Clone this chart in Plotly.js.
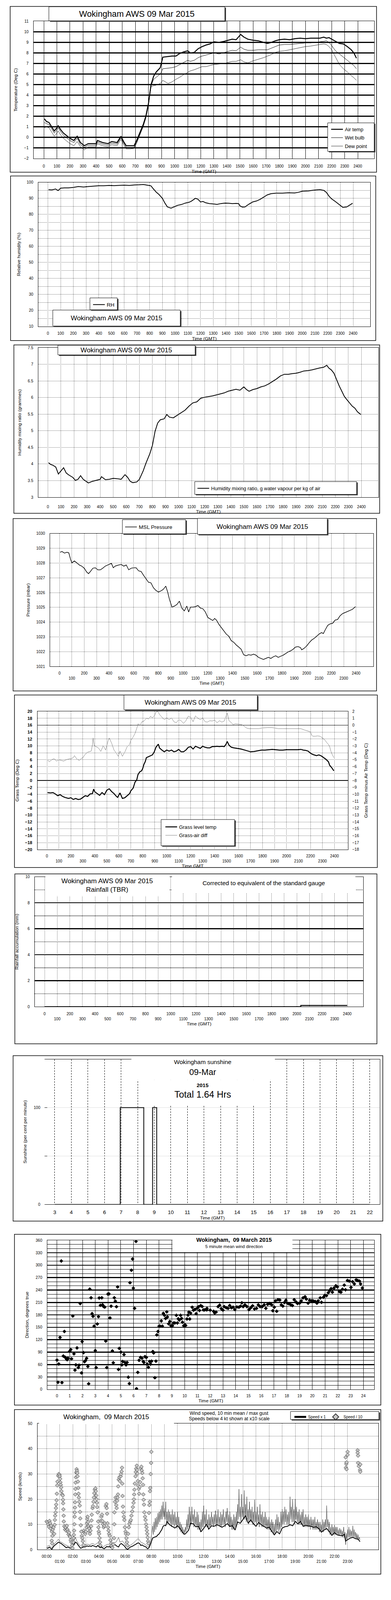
<!DOCTYPE html>
<html><head><meta charset="utf-8">
<script src="https://cdn.plot.ly/plotly-3.0.1.min.js"></script>
<style>html,body{margin:0;padding:0;background:#fff;overflow:hidden}#chart{width:1000px}</style>
</head><body><div id="chart"></div>
<script>
// ================= DATA =================
const hours = [0,1,2,3,4,5,6,7,8,9,10,11,12,13,14,15,16,17,18,19,20,21,22,23,24];
const hhmm = ['0','100','200','300','400','500','600','700','800','900','1000','1100','1200','1300','1400','1500','1600','1700','1800','1900','2000','2100','2200','2300','2400'];
const sunHours = [3,4,5,6,7,8,9,10,11,12,13,14,15,16,17,18,19,20,21,22];
const dirHourLabels = ['0','1','2','3','4','5','6','7','8','9','10','11','12','13','14','15','16','17','18','19','20','21','22','23','24'];
const clockHours = [0,1,2,3,4,5,6,7,8,9,10,11,12,13,14,15,16,17,18,19,20,21,22,23];
const clockLabels = ['00:00','01:00','02:00','03:00','04:00','05:00','06:00','07:00','08:00','09:00','10:00','11:00','12:00','13:00','14:00','15:00','16:00','17:00','18:00','19:00','20:00','21:00','22:00','23:00'];

// Panel 1: temperatures (hours, deg C)
const tTemp = [0.05,0.2,0.4,0.6,0.8,1.0,1.1,1.3,1.5,1.7,2.0,2.3,2.55,2.8,3.1,3.4,3.7,4.0,4.1,4.5,4.9,5.2,5.6,5.9,6.1,6.3,6.6,6.9,7.1,7.3,7.6,7.8,8.0,8.2,8.4,8.6,8.9,9.1,9.5,9.8,10.1,10.4,10.7,11.0,11.2,11.5,11.8,12.1,12.4,12.7,13.0,13.4,13.8,14.1,14.4,14.7,15.05,15.3,15.6,16.0,16.4,16.8,17.1,17.4,17.7,18.0,18.4,18.8,19.2,19.6,20.0,20.4,20.8,21.1,21.4,21.6,21.8,22.0,22.3,22.6,22.9,23.2,23.5,23.7,23.9];
const airTemp = [1.75,1.5,1.4,1.0,0.6,0.9,1.1,0.7,0.4,0.2,-0.1,-0.3,0.1,-0.5,-0.8,-0.6,-0.6,-0.6,-0.3,-0.5,-0.6,-0.4,-0.5,0.1,-0.4,-0.8,-0.8,-0.8,-0.3,0.3,1.2,2.0,3.2,5.0,5.8,6.2,6.6,7.6,7.65,7.7,7.7,7.95,8.1,8.2,8.0,8.05,8.4,8.6,8.75,8.85,9.05,9.0,9.1,9.2,9.3,9.25,9.75,9.5,9.3,9.2,9.15,9.0,8.9,9.0,9.15,9.25,9.3,9.25,9.35,9.4,9.35,9.4,9.4,9.4,9.5,9.4,9.45,9.3,9.1,8.9,8.85,8.6,8.3,8.0,7.5];
const wetBulb = [1.4,1.3,1.2,0.8,0.4,0.7,0.9,0.5,0.2,0.0,-0.3,-0.5,-0.1,-0.7,-0.95,-0.75,-0.75,-0.75,-0.45,-0.65,-0.75,-0.55,-0.65,-0.05,-0.55,-0.95,-0.95,-0.95,-0.45,0.2,1.1,1.9,3.1,4.9,5.5,5.7,6.0,6.5,6.55,6.6,6.7,6.9,7.1,7.3,7.2,7.3,7.55,7.7,7.8,7.9,8.0,7.9,8.05,8.15,8.25,8.2,8.55,8.35,8.25,8.25,8.3,8.3,8.3,8.45,8.6,8.75,8.8,8.8,8.85,8.9,8.95,8.95,9.0,9.05,9.1,9.15,9.0,8.7,8.2,7.9,7.6,7.3,7.0,6.8,6.5];
const dewPoint = [0.9,1.0,0.9,0.5,0.1,0.4,0.6,0.2,-0.1,-0.3,-0.6,-0.8,-0.4,-0.9,-1.2,-0.9,-0.9,-0.9,-0.6,-0.8,-0.9,-0.7,-0.8,-0.2,-0.7,-1.1,-1.1,-1.05,-0.55,0.1,1.0,1.8,3.0,4.8,4.9,4.95,5.1,5.4,5.1,5.25,5.5,5.7,5.95,6.15,6.3,6.4,6.55,6.7,6.7,6.8,6.9,6.95,7.0,7.1,7.2,7.2,7.35,7.15,7.05,7.25,7.4,7.55,7.7,7.85,8.05,8.15,8.2,8.3,8.4,8.5,8.6,8.65,8.75,8.8,8.85,8.8,8.6,8.3,7.6,6.9,6.5,6.2,5.85,5.65,5.4];

// Panel 2: relative humidity [hour, %]
const rhData = [[0.05,95.4],[0.3,95.2],[0.6,95.8],[0.8,94.8],[1.0,96.3],[1.3,96.5],[1.6,96.5],[2.0,96.8],[2.4,97.3],[2.8,97.0],[3.2,97.3],[3.6,97.6],[4.0,97.8],[4.4,97.8],[4.8,98.0],[5.2,97.9],[5.6,98.0],[6.0,98.2],[6.4,98.0],[6.8,98.3],[7.2,98.4],[7.5,98.6],[7.8,98.2],[8.1,97.8],[8.3,95.8],[8.53,93.7],[8.73,92.4],[9.0,90.0],[9.2,87.0],[9.4,84.6],[9.68,83.8],[9.9,84.6],[10.2,85.6],[10.5,86.1],[10.8,87.0],[11.1,87.5],[11.3,88.3],[11.6,90.0],[11.8,89.4],[12.0,87.7],[12.2,88.0],[12.4,87.2],[12.7,86.7],[13.0,86.5],[13.3,86.2],[13.6,86.7],[13.9,87.0],[14.2,86.9],[14.5,86.7],[14.8,86.8],[15.0,86.7],[15.1,85.3],[15.3,84.5],[15.5,84.6],[15.8,86.3],[16.1,87.7],[16.4,88.3],[16.7,89.4],[17.0,90.8],[17.25,92.1],[17.55,92.9],[17.95,93.2],[18.45,93.2],[18.9,93.4],[19.4,93.3],[19.7,93.7],[20.0,94.4],[20.5,94.6],[20.9,95.1],[21.4,95.4],[21.7,94.9],[21.9,93.7],[22.1,91.4],[22.3,89.7],[22.6,88.0],[22.8,86.7],[23.0,85.6],[23.2,84.3],[23.5,84.6],[23.7,85.6],[23.96,86.9]];

// Panel 3: humidity mixing ratio [hour, g/kg]
const mixData = [[0.05,4.04],[0.2,3.99],[0.4,3.96],[0.6,3.91],[0.8,3.70],[1.0,3.80],[1.2,3.89],[1.4,3.73],[1.6,3.67],[1.9,3.60],[2.1,3.51],[2.3,3.54],[2.5,3.65],[2.7,3.54],[2.9,3.48],[3.1,3.43],[3.4,3.48],[3.7,3.51],[4.0,3.54],[4.1,3.62],[4.4,3.53],[4.7,3.54],[5.0,3.57],[5.3,3.56],[5.6,3.54],[5.9,3.68],[6.1,3.60],[6.3,3.48],[6.5,3.44],[6.8,3.46],[7.0,3.54],[7.3,3.80],[7.5,4.02],[7.8,4.31],[8.0,4.56],[8.2,4.98],[8.4,5.23],[8.6,5.33],[8.9,5.36],[9.1,5.49],[9.3,5.41],[9.6,5.39],[9.9,5.47],[10.2,5.54],[10.5,5.62],[10.8,5.74],[11.1,5.84],[11.4,5.87],[11.7,5.98],[12.0,6.01],[12.3,6.03],[12.6,6.05],[12.9,6.08],[13.2,6.11],[13.5,6.14],[13.8,6.19],[14.1,6.22],[14.4,6.25],[14.7,6.22],[15.0,6.32],[15.2,6.24],[15.4,6.19],[15.7,6.24],[16.0,6.27],[16.3,6.32],[16.6,6.35],[16.9,6.41],[17.2,6.48],[17.5,6.56],[17.8,6.65],[18.1,6.70],[18.4,6.70],[18.7,6.72],[19.0,6.73],[19.3,6.76],[19.6,6.80],[19.9,6.81],[20.2,6.83],[20.5,6.86],[20.8,6.89],[21.1,6.91],[21.35,6.97],[21.5,6.89],[21.7,6.83],[21.9,6.73],[22.1,6.54],[22.3,6.35],[22.5,6.19],[22.7,6.03],[22.9,5.93],[23.1,5.84],[23.3,5.74],[23.5,5.68],[23.7,5.57],[23.95,5.49]];

// Panel 4: MSL pressure [hour, mbar]
const pressData = [[0.05,1028.73],[0.2,1028.78],[0.4,1028.67],[0.6,1028.73],[0.75,1028.69],[0.9,1028.23],[1.0,1028.01],[1.2,1028.14],[1.4,1028.01],[1.6,1027.87],[1.8,1027.79],[2.0,1027.65],[2.2,1027.39],[2.35,1027.28],[2.5,1027.43],[2.7,1027.65],[2.9,1027.68],[3.1,1027.54],[3.3,1027.54],[3.5,1027.65],[3.7,1027.79],[3.9,1027.87],[4.1,1027.94],[4.2,1027.98],[4.35,1027.68],[4.5,1027.79],[4.8,1027.87],[5.0,1027.90],[5.2,1027.79],[5.4,1027.87],[5.6,1027.54],[5.8,1027.65],[6.0,1027.68],[6.2,1027.68],[6.4,1027.47],[6.6,1027.43],[6.8,1027.17],[7.0,1026.95],[7.2,1026.70],[7.4,1026.66],[7.6,1026.33],[7.8,1026.15],[8.0,1026.04],[8.2,1026.11],[8.4,1026.22],[8.6,1026.44],[8.75,1026.04],[8.9,1025.53],[9.1,1025.02],[9.3,1025.09],[9.5,1025.20],[9.7,1025.42],[9.8,1025.16],[9.9,1024.95],[10.1,1024.76],[10.3,1025.09],[10.45,1024.69],[10.6,1025.02],[10.8,1025.02],[11.0,1025.05],[11.2,1025.13],[11.4,1024.95],[11.6,1024.91],[11.8,1024.69],[12.0,1024.32],[12.2,1024.21],[12.4,1024.11],[12.55,1024.25],[12.7,1024.14],[12.9,1023.85],[13.1,1023.63],[13.3,1023.41],[13.5,1023.19],[13.7,1023.05],[13.9,1022.75],[14.1,1022.64],[14.3,1022.46],[14.5,1022.32],[14.7,1022.17],[14.9,1021.80],[15.1,1021.73],[15.3,1021.80],[15.5,1021.77],[15.7,1021.84],[15.9,1021.77],[16.1,1021.62],[16.3,1021.55],[16.5,1021.48],[16.7,1021.55],[16.9,1021.62],[17.1,1021.55],[17.3,1021.66],[17.5,1021.73],[17.7,1021.62],[17.9,1021.70],[18.1,1021.77],[18.3,1021.88],[18.5,1021.99],[18.7,1022.06],[18.9,1022.17],[19.1,1022.32],[19.3,1022.35],[19.5,1022.28],[19.6,1022.13],[19.8,1022.24],[20.0,1022.39],[20.2,1022.61],[20.4,1022.79],[20.6,1022.90],[20.8,1023.05],[21.0,1023.19],[21.2,1023.30],[21.35,1023.23],[21.5,1023.48],[21.7,1023.78],[21.9,1023.89],[22.1,1023.92],[22.3,1024.14],[22.5,1024.18],[22.7,1024.43],[22.9,1024.58],[23.1,1024.65],[23.3,1024.73],[23.5,1024.80],[23.7,1024.87],[23.95,1025.05]];

// Panel 5: grass temperature [hour, deg C] and grass minus air [hour, deg C]
const grassData = [[0.05,-3.5],[0.3,-3.6],[0.5,-3.5],[0.7,-3.9],[0.9,-4.4],[1.1,-4.1],[1.3,-4.6],[1.5,-4.9],[1.8,-5.2],[2.0,-5.0],[2.2,-5.5],[2.4,-5.2],[2.6,-5.5],[2.8,-5.4],[3.0,-4.9],[3.2,-4.4],[3.4,-4.6],[3.6,-3.9],[3.8,-3.8],[3.9,-2.5],[4.0,-3.3],[4.2,-3.8],[4.4,-4.3],[4.6,-3.5],[4.8,-4.1],[5.0,-2.8],[5.2,-2.4],[5.4,-3.2],[5.6,-3.8],[5.8,-4.6],[5.9,-4.9],[6.1,-3.6],[6.3,-5.2],[6.5,-5.0],[6.7,-4.4],[6.9,-3.8],[7.0,-3.0],[7.2,-2.2],[7.35,-0.5],[7.5,0.2],[7.6,1.7],[7.75,2.5],[7.9,2.8],[8.0,3.5],[8.1,4.7],[8.2,5.4],[8.3,6.6],[8.5,6.9],[8.7,7.2],[8.8,7.4],[8.95,8.2],[9.1,9.6],[9.3,10.5],[9.4,9.4],[9.6,8.8],[9.8,8.3],[10.0,8.8],[10.2,8.5],[10.4,8.8],[10.6,8.3],[10.8,8.5],[11.0,9.0],[11.2,8.3],[11.4,8.3],[11.6,8.8],[11.8,9.6],[12.0,9.8],[12.2,9.1],[12.4,9.9],[12.6,9.6],[12.8,9.3],[13.0,9.9],[13.2,9.6],[13.4,9.45],[13.6,9.45],[13.8,9.8],[14.0,9.8],[14.2,9.9],[14.4,9.8],[14.6,9.9],[14.8,9.8],[14.95,10.5],[15.05,11.3],[15.2,10.2],[15.4,9.6],[15.6,9.45],[15.9,9.3],[16.2,9.1],[16.5,8.8],[16.8,8.5],[17.0,8.3],[17.3,8.4],[17.6,8.6],[17.9,8.8],[18.2,8.8],[18.5,8.9],[18.8,9.0],[19.1,8.9],[19.4,8.8],[19.7,8.8],[20.0,8.9],[20.3,8.9],[20.6,8.9],[20.9,8.9],[21.2,9.0],[21.4,8.8],[21.6,8.7],[21.8,8.5],[22.0,7.9],[22.15,7.6],[22.3,7.4],[22.5,7.2],[22.7,7.4],[22.9,7.1],[23.1,6.6],[23.3,6.1],[23.5,5.4],[23.6,4.4],[23.75,3.8],[23.95,2.8]];
const grassDiffData = [[0.05,-5.0],[0.2,-5.3],[0.4,-5.0],[0.6,-4.85],[0.8,-5.2],[1.0,-5.0],[1.2,-5.1],[1.4,-5.2],[1.6,-5.0],[1.8,-4.9],[2.0,-4.85],[2.2,-4.7],[2.3,-4.4],[2.5,-4.9],[2.7,-5.1],[2.85,-4.85],[3.0,-4.7],[3.2,-4.2],[3.4,-3.9],[3.6,-3.8],[3.7,-3.75],[3.8,-2.8],[3.85,-1.85],[3.95,-2.95],[4.1,-3.1],[4.3,-3.3],[4.5,-3.8],[4.7,-2.95],[4.9,-3.6],[5.1,-2.3],[5.2,-1.85],[5.4,-2.6],[5.6,-3.6],[5.8,-4.05],[5.95,-4.5],[6.1,-3.75],[6.3,-4.5],[6.5,-3.9],[6.7,-3.1],[6.9,-2.8],[7.0,-2.2],[7.2,-1.7],[7.35,-1.2],[7.5,-0.45],[7.6,0.2],[7.8,-0.05],[7.9,0.45],[8.1,0.6],[8.3,1.0],[8.5,0.9],[8.65,1.3],[8.8,1.05],[9.0,1.45],[9.1,1.9],[9.25,2.0],[9.4,1.55],[9.6,1.15],[9.8,0.8],[10.0,1.05],[10.2,0.8],[10.4,1.05],[10.6,0.5],[10.8,0.35],[11.0,0.8],[11.2,0.65],[11.4,0.25],[11.6,0.65],[11.8,1.3],[12.0,1.15],[12.2,0.5],[12.4,1.35],[12.6,1.0],[12.8,0.8],[13.0,1.05],[13.2,0.5],[13.4,0.45],[13.6,0.65],[13.8,0.6],[14.0,0.75],[14.2,0.35],[14.4,0.65],[14.6,0.45],[14.8,0.6],[14.95,1.35],[15.05,1.75],[15.2,0.65],[15.4,0.35],[15.55,0.05],[15.7,0.2],[16.0,0.15],[16.3,0.05],[16.5,-0.2],[16.7,-0.45],[16.9,-0.5],[17.3,-0.5],[17.7,-0.5],[18.0,-0.4],[18.4,-0.35],[18.8,-0.35],[19.0,-0.4],[19.3,-0.5],[19.7,-0.5],[20.1,-0.5],[20.5,-0.5],[20.9,-0.5],[21.2,-0.5],[21.5,-0.7],[21.8,-0.85],[22.0,-1.0],[22.1,-1.45],[22.2,-1.6],[22.4,-1.6],[22.6,-1.55],[22.8,-1.6],[23.0,-1.85],[23.2,-2.15],[23.35,-2.5],[23.5,-2.8],[23.6,-3.1],[23.7,-3.75],[23.8,-4.2],[23.95,-4.7]];

// Panel 6: rainfall accumulation [hour, mm]
const rainData = [[0,0],[20.32,0.1],[24,0.1]];

// Panel 7: sunshine [hour, per cent per minute]
const sunData = [[3,0],[6.95,100],[8.37,0],[8.9,100],[9.15,0],[22,0]];

// Panel 8: 5 minute mean wind direction [hour, degrees]
const windDir = [[0.0,70.9],[0.08,17.3],[0.14,61.3],[0.24,125.5],[0.34,310],[0.39,16.5],[0.5,80.6],[0.58,139.9],[0.65,77.3],[0.76,72.7],[0.81,72.1],[0.86,75.5],[0.99,92],[1.08,96.1],[1.14,73.9],[1.24,177.3],[1.33,86.1],[1.41,46.6],[1.48,59.3],[1.57,100.2],[1.67,52.8],[1.73,58.5],[1.82,207.4],[1.92,39.9],[1.97,115.4],[2.08,88.9],[2.16,67],[2.23,69.6],[2.32,75.2],[2.42,55.4],[2.48,13.7],[2.57,242.2],[2.67,221.3],[2.75,183],[2.82,176.5],[2.91,152.8],[3.0,93.8],[3.07,52.8],[3.16,158],[3.25,175.7],[3.31,220.8],[3.4,203],[3.51,221.3],[3.57,204.3],[3.65,200.2],[3.74,198.9],[3.82,116.7],[3.9,52.8],[3.99,230.1],[4.07,230.6],[4.15,172.6],[4.24,201],[4.34,93],[4.41,64.4],[4.49,221.3],[4.57,213.1],[4.66,199.7],[4.75,247.4],[4.82,48.2],[4.88,99.2],[5.0,90.2],[5.08,59.3],[5.14,67.5],[5.25,84.3],[5.32,65.2],[5.41,59.3],[5.49,65.2],[5.59,29.6],[5.67,14.2],[5.72,257.7],[5.83,287.8],[5.92,314.9],[5.98,244.5],[6.08,195.8],[6.19,357.4],[6.23,1.8],[6.33,41.2],[6.43,70.3],[6.55,77.3],[6.66,75.5],[6.76,67.5],[6.81,65.2],[6.89,79.1],[7.0,77.3],[7.07,61.1],[7.16,53.6],[7.26,67.5],[7.33,61.1],[7.41,68.3],[7.51,91.5],[7.57,88.1],[7.67,28.3],[7.75,68.3],[7.82,131.7],[7.91,139.9],[8.0,152.8],[8.07,152.8],[8.17,165.4],[8.25,152.8],[8.33,183.7],[8.42,179.1],[8.51,171.3],[8.6,187.3],[8.65,175],[8.75,158.5],[8.84,164.1],[8.93,153.8],[9.04,153.8],[9.13,160.5],[9.23,160.5],[9.35,179.1],[9.43,160.5],[9.5,170.6],[9.58,167.5],[9.68,179.1],[9.76,171.3],[9.83,162.3],[9.93,153.8],[10.02,155.9],[10.08,154.6],[10.18,170],[10.26,179.6],[10.33,186.8],[10.4,170],[10.47,184.2],[10.59,198.4],[10.69,191.4],[10.8,193.2],[10.9,182.9],[10.98,195.8],[11.09,199.7],[11.16,190.7],[11.26,202.3],[11.37,200.2],[11.47,192],[11.57,192],[11.73,192],[11.75,195.7],[12.0,191.5],[12.27,188.7],[12.35,184.5],[12.46,186.7],[12.62,199.9],[12.74,203.5],[12.86,195.1],[13.0,191.5],[13.1,199.9],[13.26,197.1],[13.4,195.7],[13.53,202.7],[13.66,197.1],[13.79,198.5],[13.93,192.9],[14.09,199],[14.25,198.5],[14.38,201.3],[14.48,209.1],[14.58,199.9],[14.72,204.1],[14.88,199.9],[15.04,192.9],[15.18,197.1],[15.32,201.9],[15.47,194.3],[15.63,195.7],[15.77,204.1],[15.91,199.9],[16.07,199.9],[16.23,204.1],[16.36,195.7],[16.5,205.5],[16.66,207.5],[16.82,204.1],[16.9,190.1],[17.02,198.5],[17.11,213.9],[17.21,188.7],[17.31,216.7],[17.45,215.9],[17.57,204.1],[17.69,201.3],[17.81,209.7],[17.93,215.3],[18.05,208.3],[18.16,206.9],[18.32,204.1],[18.44,202.7],[18.58,216.7],[18.72,211.1],[18.84,207.5],[19.0,208.3],[19.13,213.9],[19.27,220.9],[19.43,223.7],[19.53,218.1],[19.67,208.3],[19.79,215.3],[19.93,213.9],[20.06,213.9],[20.22,212.5],[20.36,208.3],[20.46,213.9],[20.62,220.9],[20.72,210.3],[20.86,222.3],[20.98,227.1],[21.11,226.5],[21.25,233.5],[21.37,239.1],[21.47,243.3],[21.57,234.9],[21.7,244.7],[21.84,250.3],[21.96,247.5],[22.12,236.3],[22.24,234.9],[22.36,241.9],[22.5,251.8],[22.6,240.5],[22.75,263],[22.89,261.6],[23.03,246.1],[23.15,260.2],[23.29,254.6],[23.43,264.4],[23.55,263],[23.69,261.6],[23.78,254.6],[23.92,244.7]];

// Panel 9: wind speed, 10 min mean [hour, kt]
const windMean = [[0.0,0.8],[0.1,0.6],[0.2,1.1],[0.3,0.6],[0.4,0.2],[0.5,1.1],[0.6,1.7],[0.7,2.1],[0.8,2.5],[0.9,3.0],[1.0,2.7],[1.1,2.5],[1.2,2.1],[1.3,1.7],[1.4,1.3],[1.5,0.8],[1.6,1.1],[1.7,0.8],[1.8,0.6],[1.9,0.8],[2.0,1.5],[2.1,2.1],[2.2,3.0],[2.3,2.7],[2.4,1.9],[2.5,1.3],[2.6,0.6],[2.7,0.8],[2.8,1.1],[2.9,1.1],[3.0,1.3],[3.1,1.5],[3.2,1.3],[3.3,1.5],[3.4,1.3],[3.5,1.7],[3.6,1.5],[3.7,1.3],[3.8,1.1],[3.9,1.7],[4.0,1.3],[4.1,0.8],[4.2,1.1],[4.3,0.6],[4.4,0.4],[4.5,0.8],[4.6,1.3],[4.7,1.1],[4.8,1.3],[4.9,0.8],[5.0,1.3],[5.1,1.7],[5.2,2.1],[5.3,1.7],[5.4,1.3],[5.5,1.1],[5.6,2.1],[5.7,2.5],[5.8,2.1],[5.9,1.7],[6.0,1.1],[6.1,0.4],[6.2,0.2],[6.3,0.6],[6.4,1.1],[6.5,1.3],[6.6,1.5],[6.7,1.9],[6.8,2.1],[6.9,2.5],[7.0,2.7],[7.1,2.5],[7.2,1.7],[7.3,1.9],[7.4,1.5],[7.5,1.3],[7.6,1.1],[7.7,0.4],[7.8,0.6],[7.9,1.7],[8.0,3.0],[8.1,4.6],[8.2,4.9],[8.3,5.1],[8.4,5.3],[8.5,5.9],[8.6,6.3],[8.7,7.2],[8.8,8.0],[8.9,9.3],[9.0,9.7],[9.1,9.5],[9.2,11.2],[9.4,9.9],[9.6,9.3],[9.8,8.6],[10.0,9.5],[10.2,8.4],[10.4,6.8],[10.55,6.1],[10.7,6.8],[10.85,7.8],[11.0,10.5],[11.2,10.3],[11.4,9.1],[11.6,9.3],[11.8,7.2],[12.0,8.4],[12.2,10.1],[12.4,8.2],[12.6,9.5],[12.8,9.3],[13.0,9.9],[13.2,9.5],[13.4,8.9],[13.6,9.5],[13.8,10.3],[14.0,9.3],[14.2,9.5],[14.4,7.8],[14.6,11.0],[14.8,10.5],[15.0,12.0],[15.2,13.5],[15.4,10.5],[15.6,11.8],[15.8,10.3],[16.0,9.3],[16.2,10.8],[16.4,9.9],[16.6,9.3],[16.8,8.6],[17.0,8.9],[17.2,7.4],[17.4,5.9],[17.6,7.2],[17.8,6.3],[18.0,8.6],[18.2,9.1],[18.4,9.3],[18.6,9.9],[18.8,9.5],[19.0,11.2],[19.2,10.3],[19.4,11.2],[19.6,9.3],[19.8,9.7],[20.0,9.5],[20.2,9.3],[20.4,8.9],[20.6,9.1],[20.8,8.4],[21.0,7.0],[21.2,7.8],[21.4,8.4],[21.6,7.2],[21.8,5.7],[22.0,6.8],[22.2,5.9],[22.4,5.7],[22.6,5.5],[22.75,6.1],[22.85,3.4],[23.0,4.0],[23.2,4.6],[23.4,4.9],[23.6,4.4],[23.8,4.2],[23.95,3.2]];

// Panel 9: max gust [hour, kt]
const windGust = [[0.0,1.2],[0.2,1.8],[0.4,0.8],[0.6,2.4],[0.8,3.5],[0.9,4.2],[1.0,3.2],[1.2,2.8],[1.4,2.0],[1.6,1.6],[1.8,1.0],[2.0,2.2],[2.2,5.0],[2.3,3.5],[2.5,2.0],[2.7,1.2],[2.9,1.8],[3.1,2.2],[3.3,2.0],[3.5,2.5],[3.7,2.0],[3.9,2.8],[4.1,1.5],[4.3,1.0],[4.5,1.8],[4.7,2.2],[4.9,1.5],[5.1,2.8],[5.3,3.0],[5.5,4.9],[5.6,3.0],[5.8,3.5],[6.0,2.0],[6.2,1.0],[6.4,1.8],[6.6,2.5],[6.8,3.5],[7.0,4.5],[7.2,3.0],[7.4,2.5],[7.6,1.8],[7.8,1.0],[7.95,3.5],[8.05,7.0],[8.1,9.5],[8.15,6.0],[8.2,11.0],[8.25,7.0],[8.3,12.5],[8.35,8.0],[8.4,13.0],[8.45,9.0],[8.5,14.5],[8.55,10.0],[8.6,15.0],[8.65,11.0],[8.7,16.0],[8.75,12.0],[8.8,17.5],[8.85,12.0],[8.9,19.0],[8.95,13.0],[9.0,16.5],[9.05,12],[9.1,19],[9.15,11],[9.2,15],[9.25,10],[9.3,16],[9.35,11],[9.4,15],[9.45,10],[9.5,14],[9.55,9],[9.6,16],[9.65,10],[9.7,14],[9.75,9],[9.8,15],[9.85,10],[9.9,13],[9.95,8.5],[10.0,15],[10.05,9],[10.1,13],[10.15,8],[10.2,11],[10.25,7],[10.3,10],[10.35,6.5],[10.4,9],[10.45,6],[10.5,8],[10.55,6.5],[10.6,9],[10.65,7],[10.7,12],[10.75,8],[10.8,14],[10.85,9],[10.9,17],[10.95,10],[11.0,15],[11.05,10],[11.1,17],[11.15,11],[11.2,14],[11.25,9],[11.3,16],[11.35,10],[11.4,13],[11.45,9],[11.5,15],[11.55,8],[11.6,14],[11.65,8],[11.7,11],[11.75,7],[11.8,12],[11.85,8],[11.9,15],[11.95,9],[12.0,17.5],[12.05,10],[12.1,14],[12.15,9],[12.2,16],[12.25,9],[12.3,12],[12.35,8],[12.4,14],[12.45,9],[12.5,13],[12.55,9],[12.6,15],[12.65,10],[12.7,13],[12.75,9],[12.8,14],[12.85,10],[12.9,15.5],[12.95,9],[13.0,14],[13.05,10],[13.1,16],[13.15,10],[13.2,13],[13.25,9],[13.3,15],[13.35,9],[13.4,14],[13.45,10],[13.5,16],[13.55,10],[13.6,13],[13.65,9],[13.7,15],[13.75,11],[13.8,16.5],[13.85,10],[13.9,14],[13.95,9],[14.0,15],[14.05,9],[14.1,13],[14.15,8],[14.2,12],[14.25,8],[14.3,14],[14.35,8],[14.4,13],[14.45,9],[14.5,15],[14.55,10],[14.6,18],[14.65,12],[14.7,24],[14.75,13],[14.8,17],[14.85,11],[14.9,22],[14.95,13],[15.0,17],[15.05,12],[15.1,23.5],[15.15,12],[15.2,18],[15.25,11],[15.3,21],[15.35,12],[15.4,16],[15.45,10],[15.5,19],[15.55,11],[15.6,16],[15.65,11],[15.7,17],[15.75,10],[15.8,15],[15.85,10],[15.9,20],[15.95,11],[16.0,15],[16.05,10],[16.1,17],[16.15,11],[16.2,14],[16.25,9],[16.3,18],[16.35,10],[16.4,14],[16.45,9],[16.5,15],[16.55,9],[16.6,13],[16.65,9],[16.7,15],[16.75,9],[16.8,13],[16.85,8],[16.9,12],[16.95,8],[17.0,13],[17.05,8],[17.1,11],[17.15,7],[17.2,12],[17.25,7],[17.3,11],[17.35,6],[17.4,10],[17.45,6],[17.5,12],[17.55,7],[17.6,14],[17.65,8],[17.7,13],[17.75,7],[17.8,11],[17.85,8],[17.9,15],[17.95,9],[18.0,16],[18.05,10],[18.1,15],[18.15,10],[18.2,17],[18.25,11],[18.3,16],[18.35,10],[18.4,14],[18.45,10],[18.5,15],[18.55,10],[18.6,21],[18.65,12],[18.7,17],[18.75,11],[18.8,20],[18.85,11],[18.9,16],[18.95,10],[19.0,20],[19.05,12],[19.1,17],[19.15,11],[19.2,15],[19.25,10],[19.3,16],[19.35,10],[19.4,14],[19.45,10],[19.5,15],[19.55,10],[19.6,16],[19.65,9],[19.7,13],[19.75,9],[19.8,14],[19.85,9],[19.9,13],[19.95,9],[20.0,14],[20.05,9],[20.1,12],[20.15,8],[20.2,13],[20.25,9],[20.3,12],[20.35,8],[20.4,12],[20.45,8],[20.5,13],[20.55,8],[20.6,11],[20.65,8],[20.7,12],[20.75,8],[20.8,11],[20.85,7],[20.9,11],[20.95,7],[21.0,10],[21.05,7],[21.1,12],[21.15,7],[21.2,11],[21.25,8],[21.3,12],[21.35,8],[21.4,17.5],[21.45,9],[21.5,12],[21.55,7],[21.6,11],[21.65,6],[21.7,9],[21.75,6],[21.8,10],[21.85,6],[21.9,9],[21.95,6],[22.0,10],[22.05,6],[22.1,9],[22.15,6],[22.2,9],[22.25,6],[22.3,8],[22.35,5.5],[22.4,8.5],[22.45,6],[22.5,8],[22.55,5.5],[22.6,7.5],[22.65,5],[22.7,9],[22.75,5],[22.8,7],[22.85,2],[22.9,6.5],[22.95,4],[23.0,8],[23.05,5],[23.1,9],[23.15,5],[23.2,8],[23.25,5],[23.3,7.5],[23.35,5],[23.4,9.5],[23.45,5],[23.5,8],[23.55,5],[23.6,7],[23.65,4.5],[23.7,6.5],[23.75,4],[23.8,6],[23.85,3.8],[23.9,5],[23.95,4]];

// Panel 9: speeds below 4 kt shown at x10 scale [hour, kt]
const windLowX10 = [[0.0,11.2],[0.07,10.8],[0.12,10.1],[0.17,9.1],[0.22,11.4],[0.27,10.5],[0.30,8.4],[0.34,9.5],[0.40,7.2],[0.44,5.5],[0.39,3.6],[0.42,2.5],[0.47,8.0],[0.53,8.9],[0.58,6.3],[0.61,9.9],[0.63,11.8],[0.65,13.5],[0.68,14.8],[0.71,16.5],[0.73,17.9],[0.76,19.6],[0.78,22.2],[0.81,25.5],[0.83,27],[0.88,29.3],[0.93,30],[0.98,29.7],[1.0,29.1],[1.03,28.1],[1.05,26.7],[1.08,25.7],[1.11,24.7],[1.13,23.2],[1.18,21.9],[1.23,21.5],[1.25,19.8],[1.26,18.4],[1.28,16.0],[1.30,13.5],[1.31,11.2],[1.35,9.3],[1.41,8.0],[1.45,8.9],[1.49,7.6],[1.54,9.5],[1.59,8.0],[1.64,7.2],[1.67,6.1],[1.72,6.8],[1.76,5.5],[1.79,5.1],[1.84,3.8],[1.89,3.0],[1.94,1.7],[1.98,0.6],[2.04,3.0],[2.06,4.6],[2.08,5.9],[2.10,7.6],[2.12,10.1],[2.14,13.1],[2.15,14.8],[2.16,16.7],[2.17,18.8],[2.19,21.9],[2.2,24.1],[2.21,26.6],[2.24,28.7],[2.26,30.6],[2.29,31.9],[2.32,31.2],[2.34,30.4],[2.36,29.1],[2.39,27],[2.42,24.5],[2.44,22.2],[2.46,20.7],[2.49,19],[2.53,17.5],[2.55,15],[2.57,12.4],[2.61,9.7],[2.65,7.2],[2.69,5.5],[2.73,4.6],[2.77,3.4],[2.81,1.9],[2.85,7.6],[2.90,6.8],[2.95,6.3],[3.0,7.2],[3.05,8.9],[3.08,10.5],[3.10,12.2],[3.13,13.1],[3.17,11],[3.20,9.3],[3.25,8.4],[3.28,7.2],[3.31,6.3],[3.35,7.6],[3.40,9.3],[3.43,11.6],[3.45,13.9],[3.51,16.5],[3.54,17.3],[3.58,19],[3.61,20.7],[3.64,22.4],[3.68,23.8],[3.73,24.3],[3.76,23.2],[3.79,21.5],[3.82,20],[3.84,18.6],[3.86,16.9],[3.89,14.8],[3.94,11.2],[3.96,8.9],[3.98,7.2],[4.01,6.3],[4.04,4.6],[4.08,3.0],[4.11,1.7],[4.14,11.4],[4.19,13.1],[4.23,13.9],[4.26,11.4],[4.31,10.1],[4.36,8.9],[4.41,9.5],[4.46,10.5],[4.52,17.3],[4.57,18.1],[4.59,16.5],[4.62,14.3],[4.65,10.5],[4.69,8.9],[4.73,7.6],[4.77,6.3],[4.82,5.5],[4.87,3.8],[4.92,2.5],[4.97,1.7],[5.02,0.8],[5.09,2.1],[5.15,4.6],[5.17,10.1],[5.18,14.8],[5.22,19],[5.27,20.7],[5.32,17.7],[5.35,16.5],[5.39,19.4],[5.42,20.7],[5.45,21.9],[5.47,25.1],[5.51,27.8],[5.56,28.7],[5.60,27.2],[5.66,29.1],[5.68,30],[5.73,31],[5.76,32.5],[5.78,26.2],[5.80,21.3],[5.83,17.1],[5.86,14.8],[5.90,13.1],[5.94,11.8],[5.98,8.9],[6.03,7.2],[6.06,6.3],[6.10,4.6],[6.14,3.0],[6.18,1.7],[6.23,6.3],[6.28,8.9],[6.33,10.3],[6.38,11.2],[6.43,11.8],[6.48,13.5],[6.54,15.2],[6.59,16.9],[6.64,18.6],[6.67,20],[6.69,21.9],[6.71,23.8],[6.74,26.2],[6.79,29.1],[6.81,30.8],[6.84,32.1],[6.89,33.3],[6.91,31.6],[6.94,30.2],[6.97,27.2],[6.99,25.5],[7.04,24.1],[7.07,22.2],[7.11,24.9],[7.15,26.8],[7.19,32.3],[7.24,32.9],[7.27,31.4],[7.31,30.4],[7.34,28.3],[7.37,25.7],[7.39,21.9],[7.41,19.8],[7.44,17.9],[7.47,14.8],[7.52,13.1],[7.56,11.8],[7.60,10.1],[7.63,8.9],[7.66,7.6],[7.69,6.3],[7.72,4.9],[7.75,3.4],[7.78,2.5],[7.82,14.6],[7.85,17.7],[7.88,19],[7.90,23.2],[7.92,24.5],[7.95,30],[7.98,34.4],[8.0,38.8],[22.85,36.6],[22.87,32.5],[22.9,34.0],[22.92,34.6],[22.92,31.9],[23.0,38.8],[23.0,37.6],[23.77,39.4],[23.77,38.4],[23.8,37.3],[23.8,34.4],[23.86,33.1],[23.95,31.6],[23.97,33.8],[23.97,30.9]];

// ================= LAYOUT HELPERS =================
// Design coordinates are those of the 1000 x 5000 reference; the figure fills the visible window.
const W = 1000;
const H = Math.max(1000, Math.min(5000, window.innerHeight || 5000));
const VS = H / 5000;                       // vertical scale of the design
const FS = Math.min(1, Math.sqrt(VS));     // font scale
document.getElementById('chart').style.height = H + 'px';
const F = 'Liberation Sans, Arial, Helvetica, sans-serif';
const X = p => p / 1000;
const Y = p => 1 - p / 5000;
const fz = s => Math.round(s * FS * 10) / 10;
const vp = v => Math.max(1, Math.round(v * VS));
const xs = a => a.map(d => d[0]);
const ys = a => a.map(d => d[1]);
const twoRow = labels => labels.map((s, i) => (i % 2 ? '<br>' + s : s));

function rectShape(x0, y0, x1, y1, line, fill) {
  return {type:'rect', xref:'paper', yref:'paper', x0:X(x0), x1:X(x1), y0:Y(y1), y1:Y(y0),
          line: line, fillcolor: fill, layer:'above'};
}
const frame = (x0,y0,x1,y1) => rectShape(x0,y0,x1,y1,{color:'#000',width:1.5},'rgba(0,0,0,0)');
const cover = (x0,y0,x1,y1) => rectShape(x0,y0,x1,y1,{width:0},'#ffffff');
const boxed = (x0,y0,x1,y1) => [
  rectShape(x0+3,y0+3,x1+3,y1+3,{width:0},'#3c3c3c'),
  rectShape(x0,y0,x1,y1,{color:'#000',width:1},'#ffffff')
];
function txt(text, x, y, size, extra) {
  return Object.assign({xref:'paper', yref:'paper', x:X(x), y:Y(y), text:text, showarrow:false,
    xanchor:'center', yanchor:'middle', font:{family:F, size:fz(size), color:'#000'}}, extra || {});
}

const tickFont = {family:F, size:fz(11), color:'#000'};
const titleFont = {family:F, size:fz(13), color:'#000'};
const base = {showline:true, linecolor:'#000', linewidth:1, mirror:true, ticks:'', zeroline:false,
              tickfont:tickFont, fixedrange:true, automargin:false};
const dotted = '1px,2px';

// ================= TRACES =================
const L = (w, c) => ({color: c || '#000', width: w});
const traces = [
  {x:tTemp, y:airTemp, xaxis:'x', yaxis:'y', mode:'lines', name:'Air temp', line:L(2.5), legend:'legend', legendgroup:'a'},
  {x:tTemp, y:wetBulb, xaxis:'x', yaxis:'y', mode:'lines', name:'Wet bulb', line:L(1), legend:'legend', legendgroup:'b'},
  {x:tTemp, y:dewPoint, xaxis:'x', yaxis:'y', mode:'lines', name:'Dew point', line:L(0.9,'#111'), legend:'legend', legendgroup:'c'},
  {x:xs(rhData), y:ys(rhData), xaxis:'x2', yaxis:'y2', mode:'lines', name:'RH', line:L(2), legend:'legend2'},
  {x:xs(mixData), y:ys(mixData), xaxis:'x3', yaxis:'y3', mode:'lines', name:'Humidity mixing ratio, g water vapour per kg of air', line:L(2), legend:'legend3'},
  {x:xs(pressData), y:ys(pressData), xaxis:'x4', yaxis:'y4', mode:'lines', name:'MSL Pressure', line:L(1.5), legend:'legend4'},
  {x:xs(grassData), y:ys(grassData), xaxis:'x5', yaxis:'y5', mode:'lines', name:'Grass level temp', line:L(2.5), legend:'legend5', legendgroup:'g1'},
  {x:xs(grassDiffData), y:ys(grassDiffData), xaxis:'x5', yaxis:'y10', mode:'lines', name:'Grass-air diff', line:L(1,'#808080'), legend:'legend5', legendgroup:'g2'},
  {x:xs(rainData), y:ys(rainData), xaxis:'x6', yaxis:'y6', mode:'lines', line:{color:'#000',width:2.5,shape:'hv'}, showlegend:false, name:'Rainfall'},
  {x:xs(sunData), y:ys(sunData), xaxis:'x7', yaxis:'y7', mode:'lines', line:{color:'#000',width:2,shape:'hv'}, showlegend:false, name:'Sunshine'},
  {x:xs(windDir), y:ys(windDir), xaxis:'x8', yaxis:'y8', mode:'markers', marker:{symbol:'diamond', size:7.5, color:'#000'}, showlegend:false, name:'Direction'},
  {x:xs(windGust), y:ys(windGust), xaxis:'x9', yaxis:'y9', mode:'lines', line:L(1,'#4a4a4a'), showlegend:false, name:'Max gust'},
  {x:xs(windMean), y:ys(windMean), xaxis:'x9', yaxis:'y9', mode:'lines', line:L(2), name:'Speed x 1', legend:'legend6'},
  {x:xs(windLowX10), y:ys(windLowX10), xaxis:'x9', yaxis:'y9', mode:'markers', name:'Speed / 10', legend:'legend6',
   marker:{symbol:'diamond', size:7.5, color:'#c8c8c8', line:{color:'#333', width:1}}}
];

// ================= AXES =================
const hhAxis = (l, r, rng, labels, standoffLbl, title, tstand) => Object.assign({}, base, {
  domain:[X(l), X(r)], range:rng, tickmode:'array', tickvals:hours, ticktext:labels,
  ticklabelstandoff:vp(standoffLbl), title:{text:title, font:titleFont, standoff:vp(tstand)}});
const yTitle = (t, s) => ({text:t, font:titleFont, standoff:s});

const layout = {
  width:W, height:H, margin:{l:0,r:0,t:0,b:0}, paper_bgcolor:'#fff', plot_bgcolor:'#fff',
  font:{family:F, color:'#000'},
  title:{text:'Wokingham AWS 09 Mar 2015', x:X(350), y:Y(43), xref:'paper', yref:'paper', xanchor:'center', yanchor:'middle', font:{family:F,size:fz(24),color:'#000'}},

  // Panel 1
  xaxis: Object.assign(hhAxis(86, 957, [-0.777, 25.255], hhmm, 12, 'Time (GMT)', 6), {anchor:'y', showgrid:true, gridcolor:'#000', gridwidth:1}),
  yaxis: Object.assign({}, base, {domain:[Y(495), Y(66.5)], anchor:'x', range:[-2,11], dtick:1, tick0:0, showgrid:true, gridcolor:'#000', gridwidth:2.5, ticklabelstandoff:10, title:yTitle('Temperature (Deg C)', 14)}),

  // Panel 2
  xaxis2: Object.assign(hhAxis(98, 947, [-0.756, 25.353], hhmm, 10, 'Time (GMT)', 5), {anchor:'y2', showgrid:true, gridcolor:'#000', gridwidth:1, griddash:dotted}),
  yaxis2: Object.assign({}, base, {domain:[Y(1020.5), Y(569.5)], anchor:'x2', range:[10,100], dtick:10, showgrid:true, gridcolor:'#000', griddash:dotted, minor:{dtick:5, showgrid:true, gridcolor:'#000', griddash:dotted, ticks:''}, ticklabelstandoff:10, title:yTitle('Relative humidity (%)', 13)}),

  // Panel 3
  xaxis3: Object.assign(hhAxis(98, 967.5, [-0.736, 25.293], hhmm, 18, 'Time (GMT)', 4), {anchor:'y3', showgrid:true, gridcolor:'#000', griddash:dotted}),
  yaxis3: Object.assign({}, base, {domain:[Y(1554), Y(1086.5)], anchor:'x3', range:[3,7.5], dtick:0.5, tick0:3, showgrid:true, gridcolor:'#000', griddash:dotted, ticklabelstandoff:10, title:yTitle('Humidity mixing ratio (grammes)', 13)}),

  // Panel 4
  xaxis4: Object.assign(hhAxis(128, 955, [-0.766, 25.40], twoRow(hhmm), 10, 'Time (GMT)', 2), {anchor:'y4', showgrid:true, gridcolor:'#000', griddash:dotted}),
  yaxis4: Object.assign({}, base, {domain:[Y(2083), Y(1667)], anchor:'x4', range:[1021,1030], dtick:1, showgrid:true, gridcolor:'#000', griddash:dotted, ticklabelstandoff:10, title:yTitle('Pressure (mbar)', 13)}),

  // Panel 5
  xaxis5: Object.assign(hhAxis(95.5, 890, [-0.80, 25.13], twoRow(hhmm), 8, 'Time GMT', 2), {anchor:'y5', showgrid:true, gridcolor:'#000', griddash:dotted}),
  yaxis5: Object.assign({}, base, {domain:[Y(2655), Y(2223)], anchor:'x5', range:[-20,20], dtick:2, showgrid:true, gridcolor:'#000', griddash:dotted, zeroline:true, zerolinecolor:'#000', zerolinewidth:2.5, tickfont:{family:F,size:fz(12),color:'#000',weight:'bold'}, ticklabelstandoff:10, title:yTitle('Grass Temp (Deg C)', 12)}),
  yaxis10: Object.assign({}, base, {overlaying:'y5', side:'right', anchor:'x5', range:[-18,2], dtick:1, showline:false, mirror:false, showgrid:false, zeroline:true, zerolinecolor:'#000', zerolinewidth:1, ticklabelstandoff:10, title:yTitle('Grass Temp minus Air Temp (Deg C)', 14)}),

  // Panel 6
  xaxis6: Object.assign(hhAxis(89, 929, [-0.78, 25.27], twoRow(hhmm), 11, 'Time (GMT)', 2), {anchor:'y6', showgrid:true, gridcolor:'#000', griddash:dotted}),
  yaxis6: Object.assign({}, base, {domain:[Y(3146), Y(2740)], anchor:'x6', range:[0,10], dtick:2, showgrid:true, gridcolor:'#000', gridwidth:2.5, minor:{dtick:1, showgrid:true, gridcolor:'#000', griddash:dotted, ticks:''}, ticklabelstandoff:10, title:yTitle('Rainfall accumulation (mm)', 14)}),

  // Panel 7
  xaxis7: Object.assign({}, base, {domain:[X(114), X(972)], anchor:'y7', range:[2.387, 22.62], tickmode:'array', tickvals:sunHours, ticktext:sunHours.map(String), tickfont:{family:F,size:fz(15),color:'#000'}, showgrid:true, gridcolor:'#000', griddash:'4px,3px', ticklabelstandoff:vp(8), title:{text:'Time (GMT)', font:titleFont, standoff:vp(4)}}),
  yaxis7: Object.assign({}, base, {domain:[Y(3764), Y(3310)], anchor:'x7', range:[0,150], showline:false, mirror:false, tickmode:'array', tickvals:[0,50,100], ticktext:['0','','100'], ticks:'inside', ticklen:7, tickcolor:'#000', showgrid:true, gridcolor:'#999', griddash:dotted, ticklabelstandoff:10, title:yTitle('Sunshine (per cent per minute)', 15)}),

  // Panel 8
  xaxis8: Object.assign({}, base, {domain:[X(121), X(957)], anchor:'y8', range:[-0.757, 24.845], tickmode:'array', tickvals:hours, ticktext:dirHourLabels, showgrid:true, gridcolor:'#000', gridwidth:1, ticklabelstandoff:vp(9), title:{text:'Time (GMT)', font:titleFont, standoff:vp(4)}}),
  yaxis8: Object.assign({}, base, {domain:[Y(4342), Y(3876)], anchor:'x8', range:[0,360], dtick:30, showgrid:true, gridcolor:'#000', gridwidth:2.5, minor:{dtick:10, showgrid:true, gridcolor:'#000', gridwidth:1, ticks:''}, ticklabelstandoff:10, title:yTitle('Direction, degrees true', 15)}),

  // Panel 9
  xaxis9: Object.assign({}, base, {domain:[X(95.5), X(967.5)], anchor:'y9', range:[-0.711, 25.346], tickmode:'array', tickvals:clockHours, ticktext:twoRow(clockLabels), showgrid:true, gridcolor:'#000', griddash:dotted, ticklabelstandoff:vp(10), title:{text:'Time (GMT)', font:titleFont, standoff:vp(3)}}),
  yaxis9: Object.assign({}, base, {domain:[Y(4843), Y(4448.5)], anchor:'x9', range:[0,50], dtick:10, showgrid:true, gridcolor:'#000', griddash:dotted, minor:{dtick:5, showgrid:true, gridcolor:'#000', griddash:dotted, ticks:''}, ticklabelstandoff:10, title:yTitle('Speed (knots)', 13)}),

  // Legends
  legend:  {x:X(842), y:Y(386), xanchor:'left', yanchor:'top', bgcolor:'rgba(0,0,0,0)', borderwidth:0, font:{family:F,size:fz(14),color:'#000'}, tracegroupgap:2},
  legend2: {x:X(233), y:Y(933), xanchor:'left', yanchor:'top', bgcolor:'rgba(0,0,0,0)', borderwidth:0, font:{family:F,size:fz(15),color:'#000'}},
  legend3: {x:X(500), y:Y(1508), xanchor:'left', yanchor:'top', bgcolor:'rgba(0,0,0,0)', borderwidth:0, font:{family:F,size:fz(14),color:'#000'}},
  legend4: {x:X(315), y:Y(1628), xanchor:'left', yanchor:'top', bgcolor:'rgba(0,0,0,0)', borderwidth:0, font:{family:F,size:fz(15),color:'#000'}},
  legend5: {x:X(418), y:Y(2566), xanchor:'left', yanchor:'top', bgcolor:'rgba(0,0,0,0)', borderwidth:0, font:{family:F,size:fz(14),color:'#000'}, tracegroupgap:2},
  legend6: {x:X(748), y:Y(4410), xanchor:'left', yanchor:'top', orientation:'h', itemsizing:'constant', bgcolor:'rgba(0,0,0,0)', borderwidth:0, font:{family:F,size:fz(11),color:'#000'}},

  shapes: [].concat(
    // panel frames
    frame(26,20,963,538), frame(27,550,961,1064), frame(35.5,1078,971,1604), frame(33.5,1620.5,963,2159),
    frame(37,2172,965,2711), frame(38,2731,964,3262), frame(33.5,3299,979,3816), frame(37,3857,974,4391), frame(37,4405,974,4919),
    // title boxes and legend boxes
    boxed(125,21,575,65), boxed(838,384,957,473),
    boxed(135,969,461,1019), boxed(230,931,300,968),
    boxed(148,1079,499,1109), boxed(498,1505,912,1545),
    boxed(313,1624,475,1668), boxed(505,1620,837,1670),
    boxed(317,2172,658,2218), boxed(412,2561,600,2643),
    // white areas behind titles
    [cover(116,2738,434,2800), cover(440,2738,909,2790)],
    [cover(336,3308,703,3375), cover(355,3375,688,3452)],
    [cover(441,3874,748,3913)],
    [cover(100,4446,445,4451)],
    // sunshine right border
    [{type:'line', xref:'paper', yref:'paper', x0:X(972), x1:X(972), y0:Y(3764), y1:Y(3310), line:{color:'#000',width:1}, layer:'above'}],
    boxed(743,4411,969,4436)
  ),

  annotations: [
    txt('Wokingham AWS 09 Mar 2015', 298, 994, 19),
    txt('Wokingham AWS 09 Mar 2015', 323, 1094, 19),
    txt('Wokingham AWS 09 Mar 2015', 671, 1645, 19),
    txt('Wokingham AWS 09 Mar 2015', 487, 2195, 19),
    txt('Wokingham AWS 09 Mar 2015', 274, 2753, 19),
    txt('Rainfall (TBR)', 274, 2779, 19),
    txt('Corrected to equivalent of the standard gauge', 674, 2760, 17),
    txt('Wokingham sunshine', 518, 3319, 17),
    txt('09-Mar', 518, 3350, 24),
    txt('<b>2015</b>', 518, 3392, 15),
    txt('Total 1.64 Hrs', 518, 3421, 26),
    txt('<b>Wokingham,  09 March 2015</b>', 598, 3875, 16),
    txt('5 minute mean wind direction', 598, 3895, 12.5),
    txt('Wokingham,  09 March 2015', 271, 4427, 19),
    txt('Wind speed, 10 min mean / max gust', 586, 4417, 13.5),
    txt('Speeds below 4 kt shown at x10 scale', 586, 4434, 13.5)
  ]
};

Plotly.newPlot('chart', traces, layout, {staticPlot:true, displayModeBar:false});
</script>
</body></html>
